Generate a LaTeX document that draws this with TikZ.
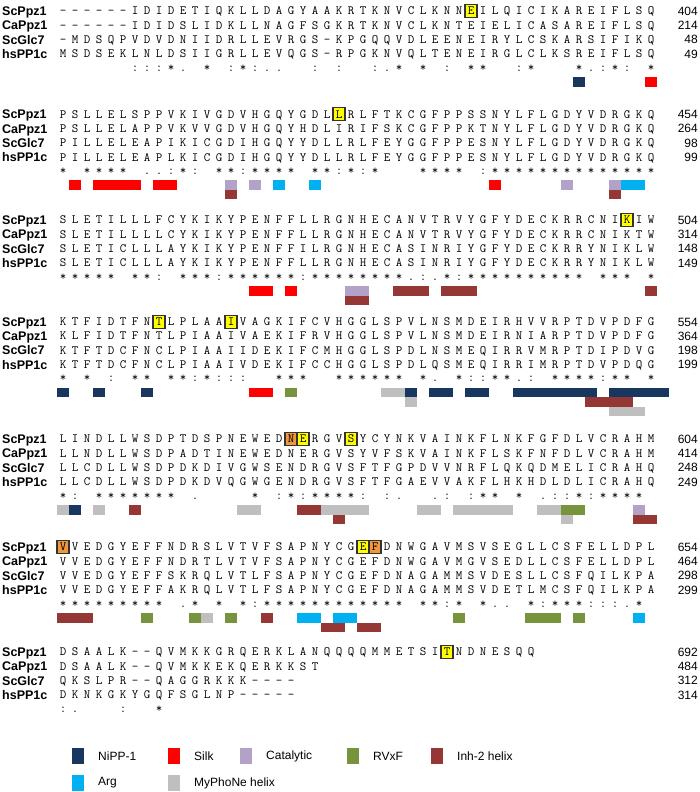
\documentclass[tikz,border=0pt]{standalone}
\usepackage{fontspec}
\setmainfont{Liberation Sans}

\definecolor{nipp}{RGB}{23,55,94}
\definecolor{silk}{RGB}{255,0,0}
\definecolor{catal}{RGB}{179,162,199}
\definecolor{rvxf}{RGB}{119,147,60}
\definecolor{inhtwo}{RGB}{149,55,53}
\definecolor{argc}{RGB}{0,176,240}
\definecolor{myph}{RGB}{191,191,191}
\definecolor{hlyel}{RGB}{255,255,0}
\definecolor{hlor}{RGB}{240,150,60}

\tikzset{
  res/.style={anchor=base, inner sep=0pt, font=\fontsize{12.6}{12.6}\ttfamily},
  seqname/.style={anchor=base west, inner sep=0pt, font=\fontsize{12.5}{12.5}\selectfont\bfseries},
  seqnum/.style={anchor=base east, inner sep=0pt, font=\fontsize{12}{12}\selectfont},
  hlbox/.style={draw=black!80, line width=1.1pt},
  legtext/.style={anchor=west, inner sep=0pt, font=\fontsize{12}{12}\selectfont},
}

\makeatletter
% one row of residues, one column every 12pt; _ leaves a column empty
\newcommand\resrow[3]{%
  \def\rr@i{0}%
  \@tfor\rr@c:=#3\do{%
    \ifx\rr@c\rr@gap\else
      \node[res] (#1-\rr@i) at ({63+12*\rr@i},#2) {\rr@c};
    \fi
    \edef\rr@i{\the\numexpr\rr@i+1\relax}}%
}
\def\rr@gap{_}
\makeatother

% names and numbers of one block: id, y of first row, numbers
\newcommand\seqblock[3]{%
  \foreach \nm [count=\k from 0] in {ScPpz1,CaPpz1,ScGlc7,hsPP1c}
    \node[seqname] (#1-name\k) at (2,{#2+14.3*\k+4.5}) {\nm};
  \foreach \nr [count=\k from 0] in {#3}
    \node[seqnum] (#1-num\k) at (698,{#2+14.3*\k+4.3}) {\nr};
}
% feature bar: colour, y of block, bar row, first and last column
\newcommand\fbar[5]{%
  \fill[#1] ({57+12*#4},{#2+66+9.5*(#3-1)}) rectangle ({69+12*#5},{#2+75.5+9.5*(#3-1)});}
% boxed residue in the first row: colour, y of block, column
\newcommand\hlres[3]{%
  \draw[hlbox, fill=#1] ({57+12*#3},{#2-6.5}) rectangle ({69+12*#3},{#2+6.5});}

\begin{document}
\begin{tikzpicture}[x=1pt,y=-1pt]
\useasboundingbox (0,0) rectangle (700,792);

% block 1
\hlres{hlyel}{11}{34}
\seqblock{b1}{11}{404,214,48,49}
\resrow{b1-a}{11+3.8}{------IDIDETIQKLLDAGYAAKRTKNVCLKNNEILQICIKAREIFLSQ}
\resrow{b1-b}{11+18.1}{------IDIDSLIDKLLNAGFSGKRTKNVCLKNTEIELICASAREIFLSQ}
\resrow{b1-c}{11+32.4}{-MDSQPVDVDNIIDRLLEVRGS-KPGQQVDLEENEIRYLCSKARSIFIKQ}
\resrow{b1-d}{11+46.7}{MSDSEKLNLDSIIGRLLEVQGS-RPGKNVQLTENEIRGLCLKSREIFLSQ}
\resrow{b1-e}{11+60}{______:::*._*_:*:..__:_:__:.*_*_:_**__:*___*.:*:_*}
\fbar{nipp}{11}{1}{43}{43}
\fbar{silk}{11}{1}{49}{49}

% block 2
\hlres{hlyel}{114.3}{23}
\seqblock{b2}{114.3}{454,264,98,99}
\resrow{b2-a}{114.3+3.8}{PSLLELSPPVKIVGDVHGQYGDLLRLFTKCGFPPSSNYLFLGDYVDRGKQ}
\resrow{b2-b}{114.3+18.1}{PSLLELAPPVKVVGDVHGQYHDLIRIFSKCGFPPKTNYLFLGDYVDRGKQ}
\resrow{b2-c}{114.3+32.4}{PILLELEAPIKICGDIHGQYYDLLRLFEYGGFPPESNYLFLGDYVDRGKQ}
\resrow{b2-d}{114.3+46.7}{PILLELEAPLKICGDIHGQYYDLLRLFEYGGFPPESNYLFLGDYVDRGKQ}
\resrow{b2-e}{114.3+60}{*_****_..:*:_**:****_**:*:*___****_:**************}
\fbar{silk}{114.3}{1}{1}{1}
\fbar{silk}{114.3}{1}{3}{6}
\fbar{silk}{114.3}{1}{8}{9}
\fbar{catal}{114.3}{1}{14}{14}
\fbar{catal}{114.3}{1}{16}{16}
\fbar{argc}{114.3}{1}{18}{18}
\fbar{argc}{114.3}{1}{21}{21}
\fbar{silk}{114.3}{1}{36}{36}
\fbar{catal}{114.3}{1}{42}{42}
\fbar{catal}{114.3}{1}{46}{46}
\fbar{argc}{114.3}{1}{47}{48}
\fbar{inhtwo}{114.3}{2}{14}{14}
\fbar{inhtwo}{114.3}{2}{46}{46}

% block 3
\hlres{hlyel}{220}{47}
\seqblock{b3}{220}{504,314,148,149}
\resrow{b3-a}{220+3.8}{SLETILLLFCYKIKYPENFFLLRGNHECANVTRVYGFYDECKRRCNIKIW}
\resrow{b3-b}{220+18.1}{SLETILLLLCYKIKYPENFFLLRGNHECANVTRVYGFYDECKRRCNIKTW}
\resrow{b3-c}{220+32.4}{SLETICLLLAYKIKYPENFFILRGNHECASINRIYGFYDECKRRYNIKLW}
\resrow{b3-d}{220+46.7}{SLETICLLLAYKIKYPENFFLLRGNHECASINRIYGFYDECKRRYNIKLW}
\resrow{b3-e}{220+60}{*****_**:_***:******:********.:.*:**********_***_*}
\fbar{silk}{220}{1}{16}{17}
\fbar{silk}{220}{1}{19}{19}
\fbar{catal}{220}{1}{24}{25}
\fbar{inhtwo}{220}{1}{28}{30}
\fbar{inhtwo}{220}{1}{32}{34}
\fbar{inhtwo}{220}{1}{49}{49}
\fbar{inhtwo}{220}{2}{24}{25}

% block 4
\hlres{hlyel}{321.7}{8}
\hlres{hlyel}{321.7}{14}
\seqblock{b4}{321.7}{554,364,198,199}
\resrow{b4-a}{321.7+3.8}{KTFIDTFNTLPLAAIVAGKIFCVHGGLSPVLNSMDEIRHVVRPTDVPDFG}
\resrow{b4-b}{321.7+18.1}{KLFIDTFNTLPIAAIVAEKIFRVHGGLSPVLNSMDEIRNIARPTDVPDFG}
\resrow{b4-c}{321.7+32.4}{KTFTDCFNCLPIAAIIDEKIFCMHGGLSPDLNSMEQIRRVMRPTDIPDVG}
\resrow{b4-d}{321.7+46.7}{KTFTDCFNCLPIAAIVDEKIFCCHGGLSPDLQSMEQIRRIMRPTDVPDQG}
\resrow{b4-e}{321.7+60}{*_*_:_**_**:*:::__***__******_*._*::**.:_****:**_*}
\fbar{nipp}{321.7}{1}{0}{0}
\fbar{nipp}{321.7}{1}{3}{3}
\fbar{nipp}{321.7}{1}{7}{7}
\fbar{silk}{321.7}{1}{16}{17}
\fbar{rvxf}{321.7}{1}{19}{19}
\fbar{myph}{321.7}{1}{27}{28}
\fbar{nipp}{321.7}{1}{29}{29}
\fbar{nipp}{321.7}{1}{31}{32}
\fbar{nipp}{321.7}{1}{34}{35}
\fbar{nipp}{321.7}{1}{38}{44}
\fbar{nipp}{321.7}{1}{46}{50}
\fbar{myph}{321.7}{2}{29}{29}
\fbar{inhtwo}{321.7}{2}{44}{47}
\fbar{myph}{321.7}{3}{46}{48}

% block 5
\hlres{hlor}{439}{19}
\hlres{hlyel}{439}{20}
\hlres{hlyel}{439}{24}
\seqblock{b5}{439}{604,414,248,249}
\resrow{b5-a}{439+3.8}{LINDLLWSDPTDSPNEWEDNERGVSYCYNKVAINKFLNKFGFDLVCRAHM}
\resrow{b5-b}{439+18.1}{LLNDLLWSDPADTINEWEDNERGVSYVFSKVAINKFLSKFNFDLVCRAHM}
\resrow{b5-c}{439+32.4}{LLCDLLWSDPDKDIVGWSENDRGVSFTFGPDVVNRFLQKQDMELICRAHQ}
\resrow{b5-d}{439+46.7}{LLCDLLWSDPDKDVQGWGENDRGVSFTFGAEVVAKFLHKHDLDLICRAHQ}
\resrow{b5-e}{439+60}{*:_*******_.____*_:*:****:_:.__.:_:**_*_.::*:****_}
\fbar{myph}{439}{1}{0}{0}
\fbar{nipp}{439}{1}{1}{1}
\fbar{myph}{439}{1}{3}{3}
\fbar{inhtwo}{439}{1}{6}{6}
\fbar{myph}{439}{1}{15}{16}
\fbar{inhtwo}{439}{1}{20}{21}
\fbar{myph}{439}{1}{22}{25}
\fbar{myph}{439}{1}{30}{31}
\fbar{myph}{439}{1}{33}{37}
\fbar{myph}{439}{1}{40}{41}
\fbar{rvxf}{439}{1}{42}{43}
\fbar{catal}{439}{1}{48}{48}
\fbar{inhtwo}{439}{2}{23}{23}
\fbar{myph}{439}{2}{42}{42}
\fbar{inhtwo}{439}{2}{48}{49}

% block 6
\hlres{hlor}{547}{0}
\hlres{hlyel}{547}{25}
\hlres{hlor}{547}{26}
\seqblock{b6}{547}{654,464,298,299}
\resrow{b6-a}{547+3.8}{VVEDGYEFFNDRSLVTVFSAPNYCGEFDNWGAVMSVSEGLLCSFELLDPL}
\resrow{b6-b}{547+18.1}{VVEDGYEFFNDRTLVTVFSAPNYCGEFDNWGAVMGVSEDLLCSFELLDPL}
\resrow{b6-c}{547+32.4}{VVEDGYEFFSKRQLVTLFSAPNYCGEFDNAGAMMSVDESLLCSFQILKPA}
\resrow{b6-d}{547+46.7}{VVEDGYEFFAKRQLVTLFSAPNYCGEFDNAGAMMSVDETLMCSFQILKPA}
\resrow{b6-e}{547+60}{*********_.*_*_*:************_**:*_*.._*:***:::.*_}
\fbar{inhtwo}{547}{1}{0}{2}
\fbar{rvxf}{547}{1}{7}{7}
\fbar{rvxf}{547}{1}{11}{11}
\fbar{myph}{547}{1}{12}{12}
\fbar{rvxf}{547}{1}{14}{14}
\fbar{inhtwo}{547}{1}{17}{17}
\fbar{argc}{547}{1}{20}{21}
\fbar{argc}{547}{1}{23}{24}
\fbar{rvxf}{547}{1}{33}{33}
\fbar{rvxf}{547}{1}{39}{41}
\fbar{rvxf}{547}{1}{43}{43}
\fbar{argc}{547}{1}{48}{48}
\fbar{inhtwo}{547}{2}{22}{23}
\fbar{inhtwo}{547}{2}{25}{26}

% block 7
\hlres{hlyel}{652}{32}
\seqblock{b7}{652}{692,484,312,314}
\resrow{b7-a}{652+3.8}{DSAALK--QVMKKGRQERKLANQQQQMMETSITNDNESQQ}
\resrow{b7-b}{652+18.1}{DSAALK--QVMKKEKQERKKST}
\resrow{b7-c}{652+32.4}{QKSLPR--QAGGRKKK----}
\resrow{b7-d}{652+46.7}{DKNKGKYGQFSGLNP-----}
\resrow{b7-e}{652+60}{:.___:__*}

% legend
\foreach \col/\lx/\ly/\txt [count=\j] in {nipp/72/756/NiPP-1, silk/168/756/Silk,
    catal/240/756/Catalytic, rvxf/347/756/RVxF, inhtwo/431/756/Inh-2 helix,
    argc/72/783/Arg, myph/168/783/MyPhoNe helix} {
  \fill[\col] (\lx,\ly-8) rectangle (\lx+12,\ly+8);
  \node[legtext] (leg\j) at (\lx+26,\ly) {\txt};
}
\end{tikzpicture}
\end{document}
